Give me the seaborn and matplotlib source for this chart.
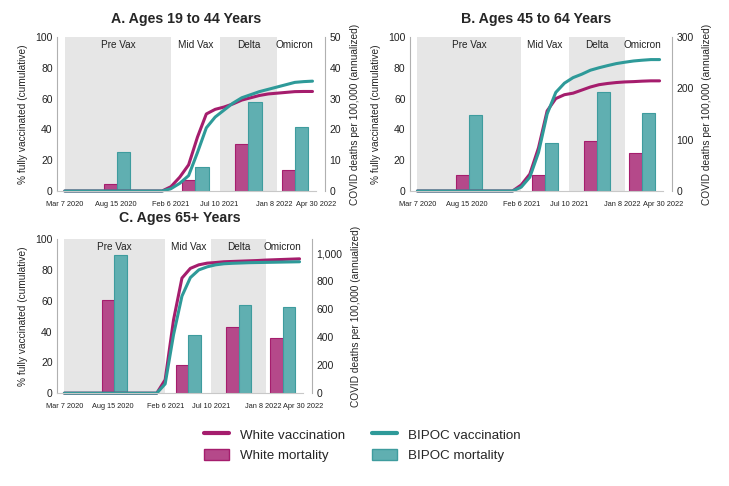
import pandas as pd
import matplotlib.pyplot as plt
import matplotlib.dates as mdates
import matplotlib.transforms as mtransforms
from matplotlib.lines import Line2D
from matplotlib.patches import Patch
from matplotlib.ticker import StrMethodFormatter
import seaborn as sns

sns.set_theme(style="white")
plt.rcParams['font.family'] = ['Liberation Sans', 'DejaVu Sans']

# vaccination curves (percent fully vaccinated, cumulative)
vax_dates = ["2020-03-07", "2021-01-09", "2021-02-06", "2021-03-06", "2021-04-03",
             "2021-05-01", "2021-05-29", "2021-06-26", "2021-07-24", "2021-08-21",
             "2021-09-18", "2021-10-16", "2021-11-13", "2021-12-11", "2022-01-08",
             "2022-02-05", "2022-03-05", "2022-04-02", "2022-04-30"]
a_white_vax = [0, 0, 2.8, 9, 17, 35, 50, 53, 54.5, 56.5, 59, 60.5, 62, 63, 63.5, 64, 64.5, 64.6, 64.6]
a_bipoc_vax = [0, 0, 1.5, 5, 10, 25, 41, 48, 52.5, 57, 60.5, 62.5, 64.5, 66, 67.5, 69, 70.5, 71, 71.3]
b_white_vax = [0, 0, 3.9, 11, 28, 52, 60, 62.5, 63.5, 65.5, 67.5, 69, 69.8, 70.4, 70.8, 71, 71.3, 71.5, 71.5]
b_bipoc_vax = [0, 0, 2.5, 9, 25, 50, 64, 70, 73.6, 75.8, 78.4, 80, 81.4, 82.7, 83.6, 84.4, 84.9, 85.3, 85.3]
c_white_vax = [0, 0, 8.7, 47.6, 74.7, 81, 83.3, 84.4, 84.8, 85.3, 85.5, 85.7, 85.9, 86.1, 86.4, 86.6, 86.8, 87, 87.2]
c_bipoc_vax = [0, 0, 6, 38, 63, 75, 80, 82, 83.3, 84, 84.3, 84.5, 84.7, 84.8, 84.9, 85, 85.1, 85.2, 85.3]

# mortality bars (COVID deaths per 100,000, annualized), one per period
bar_dates = ["2020-08-20", "2021-04-24", "2021-10-09", "2022-03-05"]
a_white_mort = [2.2, 3.6, 15.1, 6.7]
a_bipoc_mort = [12.5, 7.7, 28.8, 20.8]
b_white_mort = [31.8, 32, 96.6, 74.5]
b_bipoc_mort = [148, 92.7, 192.5, 151]
c_white_mort = [662, 202, 469, 393]
c_bipoc_mort = [983, 414, 629, 614]

periods = ["Pre Vax", "Mid Vax", "Delta", "Omicron"]
period_edges = ["2020-03-07", "2021-02-06", "2021-07-10", "2022-01-08", "2022-04-30"]
tick_dates = ["2020-03-07", "2020-08-15", "2021-02-06", "2021-07-10", "2022-01-08", "2022-04-30"]
tick_labels = ["Mar 7 2020", "Aug 15 2020", "Feb 6 2021", "Jul 10 2021", "Jan 8 2022", "Apr 30 2022"]

WHITE_LINE = "#A51D6D"
WHITE_BAR = "#B5498A"
BIPOC_LINE = "#2E9A99"
BIPOC_BAR = "#60AFB1"
BIPOC_EDGE = "#3E9C9E"
SHADE = "#E6E6E6"
SPINE = "#B0B0B0"

fig = plt.figure(figsize=(7.29, 4.86), dpi=100)


def panel(rect, title, white_vax, bipoc_vax, white_mort, bipoc_mort, ymax2, yticks2, tpad=10):
    ax = fig.add_axes(rect)
    ax2 = ax.twinx()
    ax.set_zorder(ax2.get_zorder() + 1)
    ax.patch.set_visible(False)

    edges = pd.to_datetime(period_edges)
    for i in (0, 2):
        ax2.axvspan(edges[i], edges[i + 1], color=SHADE, lw=0, zorder=0)

    centers = mdates.date2num(pd.to_datetime(bar_dates))
    ax2.bar(centers, white_mort, width=-42, align='edge', color=WHITE_BAR,
            edgecolor=WHITE_LINE, linewidth=0.8, zorder=2)
    ax2.bar(centers, bipoc_mort, width=42, align='edge', color=BIPOC_BAR,
            edgecolor=BIPOC_EDGE, linewidth=0.8, zorder=2)

    d = pd.to_datetime(vax_dates)
    sns.lineplot(x=d, y=white_vax, ax=ax, color=WHITE_LINE, linewidth=2.2, clip_on=False)
    sns.lineplot(x=d, y=bipoc_vax, ax=ax, color=BIPOC_LINE, linewidth=2.2, clip_on=False)

    for i, name in enumerate(periods):
        mid = edges[i] + (edges[i + 1] - edges[i]) / 2
        ax.text(mid, 95, name, ha='center', va='center', fontsize=7.2, color="#222222")

    x0 = mdates.date2num(pd.Timestamp("2020-03-07")) - 25
    x1 = mdates.date2num(pd.Timestamp("2022-04-30")) + 10
    ax.set_xlim(x0, x1)
    ax.set_ylim(0, 100)
    ax2.set_ylim(0, ymax2)
    ax.set_yticks([0, 20, 40, 60, 80, 100])
    ax2.set_yticks(yticks2)
    ax2.yaxis.set_major_formatter(StrMethodFormatter('{x:,.0f}'))
    ax.set_xticks(mdates.date2num(pd.to_datetime(tick_dates)))
    ax.set_xticklabels(tick_labels)
    ax.set_xlabel("")

    ax.tick_params(axis='x', length=0, pad=7, labelsize=5.3, colors="#222222")
    ax.tick_params(axis='y', length=0, pad=3, labelsize=7.5, colors="#222222")
    ax2.tick_params(axis='y', length=0, pad=3, labelsize=7.5, colors="#222222")

    # small nudges so the last two date labels sit apart like the original
    labs = ax.get_xticklabels()
    for lab, dx in ((labs[-2], -3), (labs[-1], 4)):
        lab.set_transform(lab.get_transform() +
                          mtransforms.ScaledTranslation(dx / 100, 0, fig.dpi_scale_trans))

    for s in ('top', 'right'):
        ax.spines[s].set_visible(False)
    for s in ('top', 'left', 'bottom'):
        ax2.spines[s].set_visible(False)
    ax.spines['left'].set_color(SPINE)
    ax.spines['bottom'].set_color("#C8C8C8")
    ax2.spines['right'].set_color(SPINE)
    ax2.spines['right'].set_position(('outward', 7))
    for sp in (ax.spines['left'], ax.spines['bottom'], ax2.spines['right']):
        sp.set_linewidth(0.8)

    ax.set_ylabel("% fully vaccinated (cumulative)", fontsize=7.3, labelpad=5)
    ax2.set_ylabel("COVID deaths per 100,000 (annualized)", fontsize=7.3, labelpad=6)
    ax.set_title(title, fontsize=10.2, fontweight='bold', pad=tpad)
    return ax


panel([0.078, 0.607, 0.355, 0.317], "A. Ages 19 to 44 Years",
      a_white_vax, a_bipoc_vax, a_white_mort, a_bipoc_mort, 50, [0, 10, 20, 30, 40, 50])
panel([0.562, 0.607, 0.347, 0.317], "B. Ages 45 to 64 Years",
      b_white_vax, b_bipoc_vax, b_white_mort, b_bipoc_mort, 300, [0, 100, 200, 300])
panel([0.078, 0.191, 0.337, 0.317], "C. Ages 65+ Years",
      c_white_vax, c_bipoc_vax, c_white_mort, c_bipoc_mort, 1100, [0, 200, 400, 600, 800, 1000],
      tpad=12)

handles = [Line2D([], [], color=WHITE_LINE, lw=3),
           Patch(facecolor=WHITE_BAR, edgecolor=WHITE_LINE),
           Line2D([], [], color=BIPOC_LINE, lw=3),
           Patch(facecolor=BIPOC_BAR, edgecolor=BIPOC_EDGE)]
labels = ["White vaccination", "White mortality", "BIPOC vaccination", "BIPOC mortality"]
fig.legend(handles, labels, ncol=2, loc='center', bbox_to_anchor=(0.497, 0.084),
           frameon=False, fontsize=9.6, handlelength=1.9, columnspacing=2.0,
           handletextpad=0.8, labelspacing=0.55, handleheight=0.9)

fig.savefig("out.png", dpi=100)
